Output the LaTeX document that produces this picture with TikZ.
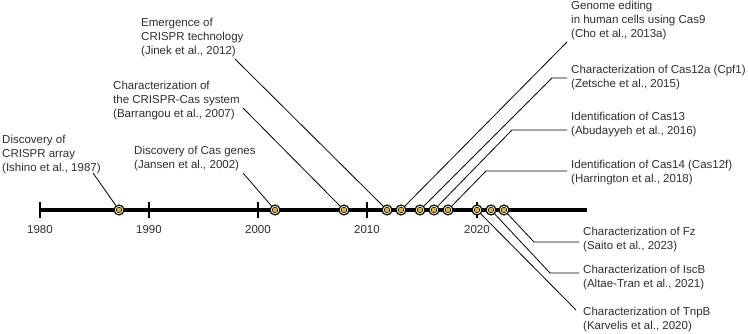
\documentclass[tikz,border=0pt]{standalone}
\usepackage{fontspec}
\setmainfont{Liberation Sans}
\usetikzlibrary{calc}
\definecolor{inkgray}{HTML}{2E2E2E}
\definecolor{ringcream}{HTML}{F3EBC4}
\definecolor{dotgold}{HTML}{D8B43E}

\begin{document}
\begin{tikzpicture}[
		x=1pt, y=-1pt,
		event/.style={font=\fontsize{11.5}{14}\selectfont, align=left, anchor=north west,
			inner xsep=4pt, inner ysep=0pt, text=inkgray},
		year/.style={font=\fontsize{11.5}{14}\selectfont, text=inkgray},
		milestone/.style={circle, draw=black, line width=1.1pt, fill=ringcream,
			minimum size=10pt, inner sep=0pt,
			path picture={\draw[fill=dotgold, line width=0.5pt] (path picture bounding box.center) circle (2.8pt);}},
		leader/.style={line width=0.8pt, black},
		tick/.style={line width=1.2pt, black},
	]

	\useasboundingbox (0,0) rectangle (748,334);

	% axis geometry
	\def\yaxis{210}
	\def\xstart{40}
	\def\xend{587}

	% axis line
	\draw[line width=4pt] (\xstart,\yaxis) -- (\xend,\yaxis);

	% ticks and years
	\foreach \yr/\xx in {1980/40, 1990/149, 2000/258, 2010/367, 2020/477} {
		\draw[tick] (\xx,202) -- (\xx,218);
		\node[year] (y\yr) at (\xx,229.5) {\yr};
	}

	% event texts above the axis
	\node[event] (ishino) at (-2,135) {Discovery of\\CRISPR array\\(Ishino et al., 1987)};
	\node[event] (jansen) at (130,146) {Discovery of Cas genes\\(Jansen et al., 2002)};
	\node[event] (barrangou) at (109,81) {Characterization of\\the CRISPR-Cas system\\(Barrangou et al., 2007)};
	\node[event] (jinek) at (137,18) {Emergence of\\CRISPR technology\\(Jinek et al., 2012)};
	\node[event] (cho) at (567,1) {Genome editing\\in human cells using Cas9\\(Cho et al., 2013a)};
	\node[event] (zetsche) at (567,65) {Characterization of Cas12a (Cpf1)\\(Zetsche et al., 2015)};
	\node[event] (abudayyeh) at (567,112) {Identification of Cas13\\(Abudayyeh et al., 2016)};
	\node[event] (harrington) at (567,160) {Identification of Cas14 (Cas12f)\\(Harrington et al., 2018)};

	% event texts below the axis
	\node[event] (saito) at (579,227) {Characterization of Fz\\(Saito et al., 2023)};
	\node[event] (altae) at (579,265) {Characterization of IscB\\(Altae-Tran et al., 2021)};
	\node[event] (karvelis) at (579,307) {Characterization of TnpB\\(Karvelis et al., 2020)};

	% milestones on the axis
	\foreach \name/\xx in {ishino/119, jansen/275, barrangou/344, jinek/387, cho/401,
		zetsche/420, abudayyeh/434, harrington/448, karvelis/477, altae/491, saito/504} {
		\node[milestone] (d\name) at (\xx,\yaxis) {};
	}

	% leader end points and bends
	\coordinate (kishino) at (93,173);
	\coordinate (kjansen) at (243,173);
	\coordinate (kbarrangou) at (243,108);
	\coordinate (kjinek) at (235,59);
	\coordinate (kcho) at (567,42);
	\coordinate (kzetsche) at (552,78);
	\coordinate (kabudayyeh) at (512,130);
	\coordinate (kharrington) at (486,171);
	\coordinate (ksaito) at (534,242);
	\coordinate (kaltae) at (550,273);
	\coordinate (kkarvelis) at (576,310);

	% leaders
	\draw[leader] (dishino) -- (kishino);
	\draw[leader] (djansen) -- (kjansen);
	\draw[leader] (dbarrangou) -- (kbarrangou);
	\draw[leader] (djinek) -- (kjinek);
	\draw[leader] (dcho) -- (kcho);
	\draw[leader] (dzetsche) -- (kzetsche) -- (kzetsche -| zetsche.west);
	\draw[leader] (dabudayyeh) -- (kabudayyeh) -- (kabudayyeh -| abudayyeh.west);
	\draw[leader] (dharrington) -- (kharrington) -- (kharrington -| harrington.west);
	\draw[leader] (dsaito) -- (ksaito) -- (ksaito -| saito.west);
	\draw[leader] (daltae) -- (kaltae) -- (kaltae -| altae.west);
	\draw[leader] (dkarvelis) -- (kkarvelis);

\end{tikzpicture}
\end{document}
